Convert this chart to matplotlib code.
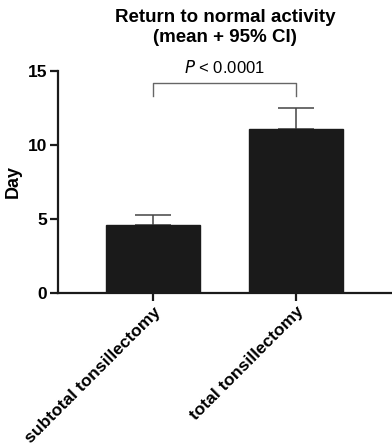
import matplotlib
matplotlib.use('Agg')
import matplotlib.pyplot as plt

plt.rcParams['font.family'] = ['Liberation Sans', 'DejaVu Sans']

# data
groups = ['subtotal tonsillectomy', 'total tonsillectomy']
means = [4.6, 11.1]
ci_upper = [5.3, 12.5]
y_ticks = [0, 5, 10, 15]
p_label = '$\\mathit{P}$ < 0.0001'
bracket_top = 14.2
bracket_foot = 13.3

fig = plt.figure(figsize=(3.92, 4.46), dpi=100)
ax = fig.add_axes([0.148, 0.343, 0.852, 0.498])

x = list(range(len(groups)))
ax.bar(x, means, width=0.66, color='#1a1a1a', edgecolor='#1a1a1a', zorder=2)
upper = [u - m for u, m in zip(ci_upper, means)]
ax.errorbar(x, means, yerr=[[0] * len(x), upper], fmt='none', ecolor='#444444',
            elinewidth=1.1, capsize=13, capthick=1.1, zorder=1)

# significance bracket
ax.plot([0, 0, 1, 1], [bracket_foot, bracket_top, bracket_top, bracket_foot],
        color='#666666', lw=1.0, clip_on=False)
ax.text(0.5, bracket_top + 0.45, p_label, ha='center', va='bottom', fontsize=12)

ax.set_xlim(-0.664, 1.671)
ax.set_ylim(0, 15)
ax.set_yticks(y_ticks)
ax.set_yticklabels([str(t) for t in y_ticks], fontsize=12.5, fontweight='bold')
ax.set_xticks(x)
ax.set_xticklabels(groups, rotation=45, ha='right', rotation_mode='anchor',
                   fontsize=12.5, fontweight='bold')
ax.set_ylabel('Day', fontsize=13, fontweight='bold', labelpad=4)

for s in ['top', 'right']:
    ax.spines[s].set_visible(False)
for s in ['left', 'bottom']:
    ax.spines[s].set_linewidth(1.6)
    ax.spines[s].set_color('#1a1a1a')
ax.tick_params(axis='both', width=1.6, length=6, color='#1a1a1a', pad=2)

fig.suptitle('Return to normal activity\n(mean + 95% CI)', x=0.575, y=0.98,
             fontsize=13.5, fontweight='bold', linespacing=1.2)

fig.savefig('out.png', dpi=100)
